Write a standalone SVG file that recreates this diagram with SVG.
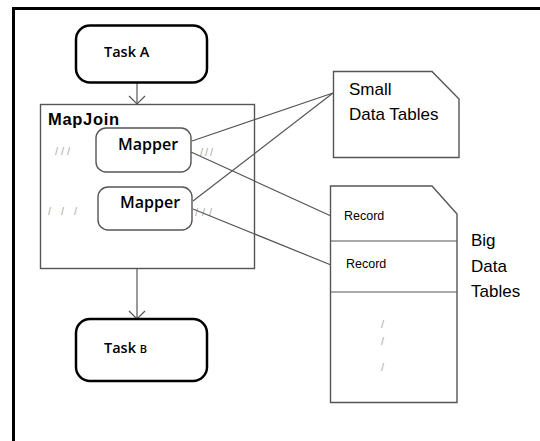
<svg xmlns="http://www.w3.org/2000/svg" width="540" height="441" viewBox="0 0 540 441">
<defs>
<style>
.frame{stroke:#000;stroke-width:3;fill:none}
.task{fill:#fff;stroke:#000;stroke-width:2.5}
.box{fill:#fff;stroke:#555;stroke-width:1.4}
.open{fill:none;stroke:#555;stroke-width:1.4}
.conn{stroke:#555;stroke-width:1.2;fill:none}
.t{font-family:"Liberation Sans",Arial,sans-serif;fill:#000}
.m{font-family:"Open Sans","Liberation Sans",sans-serif;font-weight:600;fill:#000}
.b{font-weight:bold}
.sl{font-family:"Liberation Sans",Arial,sans-serif;font-size:11px;fill:#aaa}
</style>
<marker id="ah" viewBox="0 0 20 20" refX="10" refY="10" markerWidth="20" markerHeight="20" markerUnits="userSpaceOnUse" orient="auto">
<path d="M2,2 L10,10 L2,18" fill="none" stroke="#555" stroke-width="1.2"/>
</marker>
</defs>
<rect width="540" height="441" fill="#fff"/>
<path class="frame" d="M13.5,441 L13.5,8.5 L540,8.5"/>

<g id="mapjoin">
<rect class="open" x="40.5" y="104.5" width="214" height="164"/>
<text class="t b" x="48" y="125" font-size="16.5" textLength="71">MapJoin</text>
<text class="sl" x="55" y="155" letter-spacing="3">///</text>
<text class="sl" x="48" y="215" letter-spacing="10">///</text>
<text class="sl" x="200" y="156" letter-spacing="2">///</text>
<text class="sl" x="195" y="216" letter-spacing="4">///</text>
</g>

<g id="connectors">
<line class="conn" x1="137" y1="83" x2="137" y2="104" marker-end="url(#ah)"/>
<line class="conn" x1="137" y1="269" x2="137" y2="319" marker-end="url(#ah)"/>
<line class="conn" x1="192" y1="141" x2="333" y2="93"/>
<line class="conn" x1="193" y1="201" x2="333" y2="93"/>
<line class="conn" x1="191" y1="152" x2="331" y2="216"/>
<line class="conn" x1="193" y1="209" x2="331" y2="265"/>
</g>

<g id="task-a">
<rect class="task" x="76" y="25.5" width="131" height="57" rx="14"/>
<text class="m" x="104" y="57" font-size="14.5">Task A</text>
</g>

<g id="mapper-1">
<rect class="box" x="96" y="128" width="95" height="44" rx="10"/>
<text class="m" x="118" y="150" font-size="16">Mapper</text>
</g>

<g id="mapper-2">
<rect class="box" x="98" y="187" width="94" height="43" rx="10"/>
<text class="m" x="120" y="208" font-size="16">Mapper</text>
</g>

<g id="task-b">
<rect class="task" x="76" y="319" width="131" height="62" rx="14"/>
<text class="m" x="104" y="353" font-size="14.5">Task <tspan font-size="11">B</tspan></text>
</g>

<g id="small-data-tables">
<path class="box" d="M333.5,71.5 L432,71.5 L459,99 L459,157.5 L333.5,157.5 Z"/>
<text class="t" x="349" y="95" font-size="17">Small</text>
<text class="t" x="349" y="120" font-size="17">Data Tables</text>
</g>

<g id="big-data-tables">
<path class="box" d="M330.5,186 L432,186 L457,214 L457,402.5 L330.5,402.5 Z"/>
<line class="conn" x1="330.5" y1="241" x2="457" y2="241"/>
<line class="conn" x1="330.5" y1="292" x2="457" y2="292"/>
<text class="t" x="344" y="220" font-size="12.5" fill="#222">Record</text>
<text class="t" x="346" y="268" font-size="12.5" fill="#222">Record</text>
<text class="sl" x="381" y="328">/</text>
<text class="sl" x="381" y="345">/</text>
<text class="sl" x="381" y="371">/</text>
<text class="t" x="471" y="246" font-size="17">Big</text>
<text class="t" x="471" y="272" font-size="17">Data</text>
<text class="t" x="471" y="297" font-size="17">Tables</text>
</g>
</svg>
